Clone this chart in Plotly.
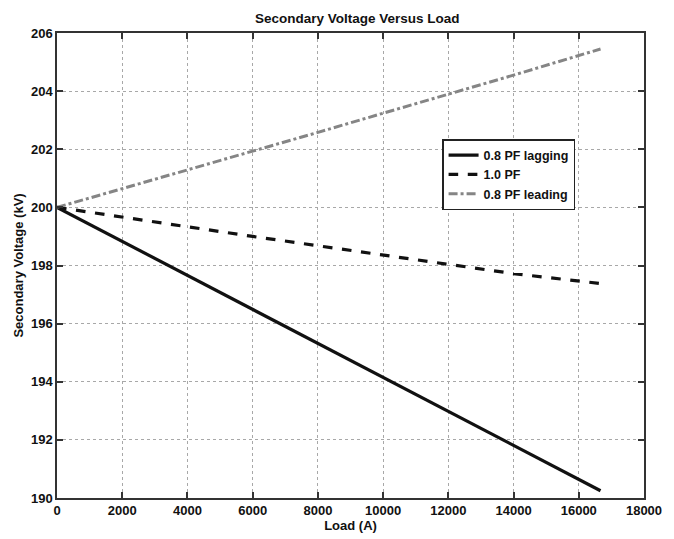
import plotly.graph_objects as go

# Load current (A)
load_a = [0, 2000, 4000, 6000, 8000, 10000, 12000, 14000, 16667]

# Secondary voltage (kV) for each power factor
v_lagging = [200.0, 198.83, 197.66, 196.49, 195.32, 194.15, 192.98, 191.80, 190.25]
v_unity = [200.0, 199.66, 199.33, 199.00, 198.68, 198.36, 198.04, 197.72, 197.38]
v_leading = [200.0, 200.64, 201.28, 201.93, 202.58, 203.24, 203.89, 204.55, 205.45]

series_names = ["0.8 PF lagging", "1.0 PF", "0.8 PF leading"]

x_ticks = list(range(0, 18001, 2000))
y_ticks = list(range(190, 207, 2))

font_family = "Liberation Sans, Arial, sans-serif"
ink = "#111111"

fig = go.Figure()
fig.add_trace(go.Scatter(x=load_a, y=v_lagging, mode="lines", name=series_names[0],
                         line=dict(color=ink, width=3.2, dash="solid")))
fig.add_trace(go.Scatter(x=load_a, y=v_unity, mode="lines", name=series_names[1],
                         line=dict(color=ink, width=3.2, dash="dash")))
fig.add_trace(go.Scatter(x=load_a, y=v_leading, mode="lines", name=series_names[2],
                         line=dict(color="#858585", width=3, dash="dashdot")))

axis_common = dict(
    showline=True, linecolor="#333333", linewidth=1.5, mirror="allticks",
    ticks="inside", ticklen=6, tickcolor="#333333", tickwidth=1.5,
    showgrid=True, gridcolor="#a8a8a8", griddash="dot", gridwidth=1,
    zeroline=False,
    tickfont=dict(family=font_family, size=13, color=ink, weight="bold"),
)

fig.update_layout(
    width=674, height=539,
    paper_bgcolor="white", plot_bgcolor="white",
    margin=dict(l=57, r=19, t=33, b=35),
    title=dict(text="Secondary Voltage Versus Load", x=0.53, xanchor="center",
               y=0.966, yanchor="middle",
               font=dict(family=font_family, size=13.5, color=ink, weight="bold")),
    xaxis=dict(range=[0, 18000], tickvals=x_ticks, ticktext=[str(v) for v in x_ticks],
               title=dict(text="Load (A)", standoff=0,
                          font=dict(family=font_family, size=13, color=ink, weight="bold")),
               **axis_common),
    yaxis=dict(range=[190, 206], tickvals=y_ticks, ticktext=[str(v) for v in y_ticks],
               title=dict(text="Secondary Voltage (kV)", standoff=4,
                          font=dict(family=font_family, size=13, color=ink, weight="bold")),
               **axis_common),
    legend=dict(x=0.656, y=0.772, xanchor="left", yanchor="top",
                bgcolor="white", bordercolor="#222222", borderwidth=1.5,
                font=dict(family=font_family, size=12.5, color=ink, weight="bold"),
                tracegroupgap=0, itemwidth=30),
    showlegend=True,
)

fig.write_html("out.html")
